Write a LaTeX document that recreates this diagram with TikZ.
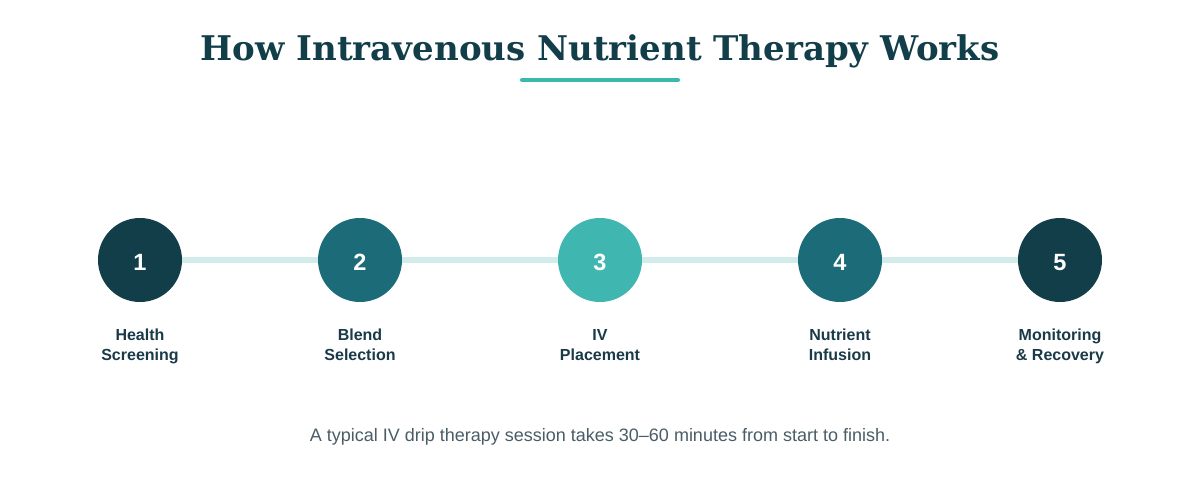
\documentclass[tikz,border=0pt]{standalone}
\usepackage{fontspec}
\setmainfont{Liberation Sans}
\newfontfamily\titlefont{DejaVu Serif}
\usepackage{tikz}
\usetikzlibrary{calc}

\definecolor{navy}{HTML}{123E4A}
\definecolor{petrol}{HTML}{1B6B78}
\definecolor{aqua}{HTML}{40B6B0}
\definecolor{track}{HTML}{D1ECEA}
\definecolor{labeltext}{HTML}{1A3A48}
\definecolor{notetext}{HTML}{4A5D66}

\begin{document}
\begin{tikzpicture}[x=1pt, y=-1pt,
	stepdot/.style={circle, minimum size=84pt, inner sep=0pt, text=white,
		text height=20pt, text depth=0pt,
		font=\bfseries\fontsize{23.5}{23.5}\selectfont},
	steplabel/.style={anchor=north, inner sep=0pt, align=center, text=labeltext,
		font=\bfseries\fontsize{16}{20}\selectfont}]
	
	\useasboundingbox[fill=white] (0,0) rectangle (1200,500);
	
	\node[anchor=base, text=navy, font=\titlefont\bfseries\fontsize{34}{34}\selectfont] (title) at (600,61) {How Intravenous Nutrient Therapy Works};
	\coordinate (ul) at (522,80);
	\coordinate (ur) at (678,80);
	\draw[aqua, line width=4pt, line cap=round] (ul) -- (ur);
	
	\coordinate (s1) at (140,260);
	\coordinate (s5) at (1060,260);
	\draw[track, line width=6pt] (s1) -- (s5);
	
	\node[stepdot, fill=navy] (n1) at (140,260) {1};
	\node[stepdot, fill=petrol] (n2) at (360,260) {2};
	\node[stepdot, fill=aqua] (n3) at (600,260) {3};
	\node[stepdot, fill=petrol] (n4) at (840,260) {4};
	\node[stepdot, fill=navy] (n5) at (1060,260) {5};
	
	\node[steplabel] (l1) at (140,328.5) {Health\\Screening};
	\node[steplabel] (l2) at (360,328.5) {Blend\\Selection};
	\node[steplabel] (l3) at (600,328.5) {\vphantom{l}IV\\Placement};
	\node[steplabel] (l4) at (840,328.5) {Nutrient\\Infusion};
	\node[steplabel] (l5) at (1060,328.5) {Monitoring\\\& Recovery};
	
	\node[anchor=base, text=notetext, font=\fontsize{18}{18}\selectfont] (note) at (600,441) {A typical IV drip therapy session takes 30–60 minutes from start to finish.};
	
\end{tikzpicture}
\end{document}
